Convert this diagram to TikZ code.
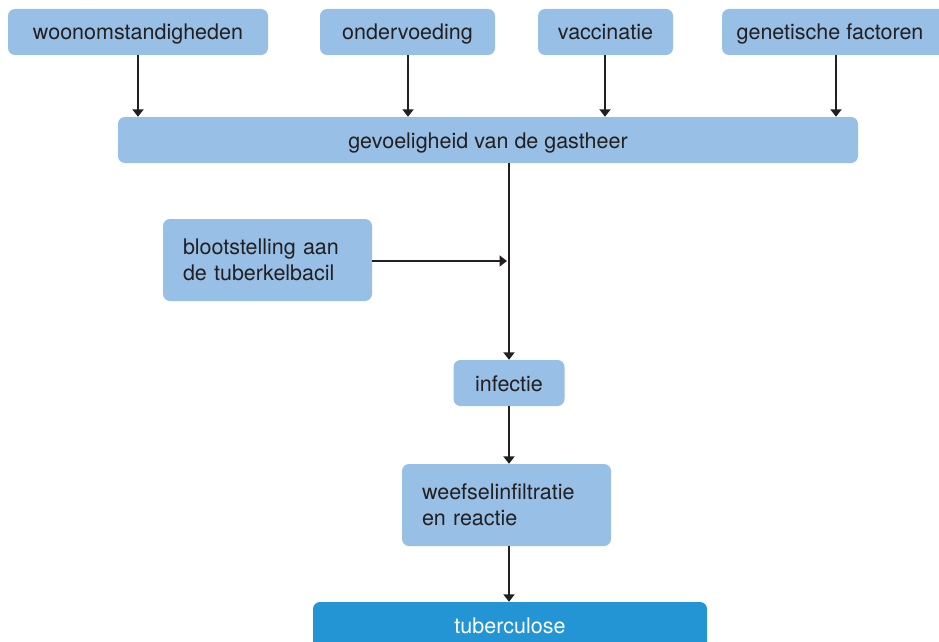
\documentclass[tikz,border=0pt]{standalone}
\usepackage{fontspec}
\setmainfont{TeX Gyre Heros}
\usetikzlibrary{arrows.meta}
\definecolor{lightbox}{HTML}{98BFE5}
\definecolor{darkbox}{HTML}{2394D4}
\definecolor{ink}{HTML}{231F20}
\begin{document}
\begin{tikzpicture}[x=1pt,y=-1pt,
  txt/.style={font=\fontsize{21.5}{26}\selectfont, text=ink},
  box/.style={txt, fill=lightbox, rounded corners=7pt, inner sep=0pt, anchor=center},
  one/.style={text height=18pt, text depth=2pt},
  leftbox/.style={box, align=left, inner xsep=20pt},
  conn/.style={draw=ink, line width=2.2pt, -{Triangle[length=7.5pt,width=11pt]}}]
\useasboundingbox (0,0) rectangle (939,642);
\clip (0,0) rectangle (939,642);
% top row
\node[box, one, minimum width=260pt, minimum height=46pt] (woon) at (138,32) {woonomstandigheden};
\node[box, one, minimum width=175pt, minimum height=46pt] (onder) at (407.5,32) {ondervoeding};
\node[box, one, minimum width=135pt, minimum height=46pt] (vacc) at (605.5,32) {vaccinatie};
\node[box, minimum width=226pt, minimum height=46pt] (gen) at (835,32) {};
\node[txt, one, inner sep=0pt, anchor=center] (gent) at (830,32) {genetische factoren};
% host susceptibility
\node[box, one, minimum width=740pt, minimum height=46pt] (gev) at (488,140) {gevoeligheid van de gastheer};
\coordinate (x1) at (138,0);
\coordinate (x2) at (408,0);
\coordinate (x3) at (605,0);
\coordinate (x4) at (836,0);
\draw[conn] (woon.south -| x1) -- (gev.north -| x1);
\draw[conn] (onder.south -| x2) -- (gev.north -| x2);
\draw[conn] (vacc.south -| x3) -- (gev.north -| x3);
\draw[conn] (gen.south -| x4) -- (gev.north -| x4);
% exposure
\node[leftbox, text width=169pt, minimum height=82pt] (bloot) at (267.5,260) {blootstelling aan\\de tuberkelbacil};
\node[box, one, minimum width=111pt, minimum height=46pt] (inf) at (509,383) {infectie};
\coordinate (j) at (509,261);
\draw[conn] (gev.south -| j) -- (inf.north -| j);
\draw[conn, shorten >=2pt] (bloot.east |- j) -- (j);
% tissue
\node[leftbox, text width=169pt, minimum height=82pt] (weef) at (506.5,505) {weefselinfiltratie\\en reactie};
\draw[conn] (inf.south -| j) -- (weef.north -| j);
% tuberculosis
\node[box, fill=darkbox, minimum width=394pt, minimum height=54pt] (tbc) at (510,629) {};
\node[txt, one, text=white, inner sep=0pt, anchor=center] (tbct) at (510,625) {tuberculose};
\draw[conn] (weef.south -| j) -- (tbc.north -| j);
\end{tikzpicture}
\end{document}
